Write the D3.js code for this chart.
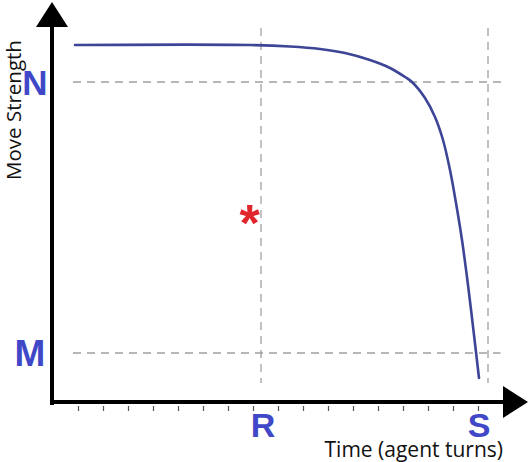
<!DOCTYPE html>
<html><head><meta charset="utf-8">
<script src="https://cdn.jsdelivr.net/npm/d3@7"></script>
<style>html,body{margin:0;padding:0;background:#fff;}svg{display:block;}</style>
</head><body>
<svg id="c" width="529" height="462"></svg>
<script>
// data (x in agent turns, y in strength units)
const curveX = [0.88, 7.88, 9.48, 10.68, 11.68, 12.68, 13.48, 14.08, 14.36, 14.88, 15.28, 15.6, 15.88, 16.12, 16.36, 16.6, 16.84, 17.04];
const curveY = [14.32, 14.32, 14.26, 14.16, 14.0, 13.72, 13.4, 13.04, 12.84, 12.2, 11.44, 10.52, 9.32, 8.0, 6.52, 4.72, 2.72, 1.0];
const xTicks = [1,2,3,4,5,6,7,8,9,10,11,12,13,14,15,16,17];
const xMarkNames = ["R", "S"];
const xMarkValues = [8.32, 17.4];
const yLevelNames = ["N", "M"];
const yLevelValues = [12.84, 2.0];
const starPoint = [7.86, 7.7];
const xLabel = "Time (agent turns)";
const yLabel = "Move Strength";

const svg = d3.select("#c");
const x = d3.scaleLinear().domain([0, 19]).range([53, 528]);
const y = d3.scaleLinear().domain([0, 15]).range([403, 28]);

const blue = "#4048C8";
const dashCol = "#a0a0a0";

// dashed reference lines
yLevelValues.forEach((v, i) => {
  svg.append("line")
    .attr("x1", x(0.8)).attr("x2", x(i === 0 ? 18 : 17.9))
    .attr("y1", y(v)).attr("y2", y(v))
    .attr("stroke", dashCol).attr("stroke-width", 1.3).attr("stroke-dasharray", "8,6");
});
xMarkValues.forEach(v => {
  svg.append("line")
    .attr("x1", x(v)).attr("x2", x(v))
    .attr("y1", y(15)).attr("y2", y(0.8))
    .attr("stroke", dashCol).attr("stroke-width", 1.3).attr("stroke-dasharray", "8,6");
});

// x axis ticks via d3 axis
const ax = svg.append("g").attr("transform", `translate(0,${y(0) + 3})`)
  .call(d3.axisBottom(x).tickValues(xTicks).tickSize(5).tickSizeOuter(0).tickFormat(""));
ax.select(".domain").remove();
ax.selectAll(".tick line").attr("stroke", "#555").attr("stroke-width", 1.2);

// axis lines
svg.append("line").attr("x1", x(0) - 1).attr("x2", x(0) - 1).attr("y1", y(0) + 2).attr("y2", 26)
  .attr("stroke", "#000").attr("stroke-width", 4);
svg.append("line").attr("x1", x(0) - 3).attr("x2", 504).attr("y1", y(0) - 1).attr("y2", y(0) - 1)
  .attr("stroke", "#000").attr("stroke-width", 4);
// arrow heads
svg.append("path").attr("d", `M${x(0) - 17},27 L${x(0) + 15},27 L${x(0) - 1},2 Z`).attr("fill", "#000");
svg.append("path").attr("d", `M503,386 L503,418 L528,402 Z`).attr("fill", "#000");

// curve
const pts = curveX.map((v, i) => [v, curveY[i]]);
svg.append("path").datum(pts)
  .attr("d", d3.line().x(d => x(d[0])).y(d => y(d[1])).curve(d3.curveCatmullRom.alpha(0.5)))
  .attr("fill", "none").attr("stroke", "#3d4596").attr("stroke-width", 2.6).attr("stroke-linecap", "round");

// letter labels
const letterFont = "'Liberation Sans', Arial, sans-serif";
svg.append("text").text(yLevelNames[0]).attr("x", 35).attr("y", y(yLevelValues[0]) + 13)
  .attr("text-anchor", "middle").attr("font-family", letterFont).attr("font-weight", "bold")
  .attr("font-size", 35).attr("fill", blue);
svg.append("text").text(yLevelNames[1]).attr("x", 30).attr("y", y(yLevelValues[1]) + 13)
  .attr("text-anchor", "middle").attr("font-family", letterFont).attr("font-weight", "bold")
  .attr("font-size", 37).attr("fill", blue);
xMarkValues.forEach((v, i) => {
  svg.append("text").text(xMarkNames[i]).attr("x", x(v) + (i === 0 ? 2 : -9)).attr("y", 437)
    .attr("text-anchor", "middle").attr("font-family", letterFont).attr("font-weight", "bold")
    .attr("font-size", 34).attr("fill", blue);
});

// star
svg.append("text").text("*").attr("x", x(starPoint[0])).attr("y", y(starPoint[1]) + 30)
  .attr("text-anchor", "middle").attr("font-family", letterFont).attr("font-weight", "bold")
  .attr("font-size", 52).attr("fill", "#e0262c");

// axis titles
svg.append("text").text(xLabel).attr("x", 503).attr("y", 457).attr("text-anchor", "end")
  .attr("font-family", "'Open Sans', sans-serif").attr("font-size", 21).attr("fill", "#111");
svg.append("text").text(yLabel).attr("transform", "translate(21,110) rotate(-90)")
  .attr("text-anchor", "middle")
  .attr("font-family", "'Open Sans', sans-serif").attr("font-size", 20.5).attr("fill", "#111");
</script>
</body></html>
